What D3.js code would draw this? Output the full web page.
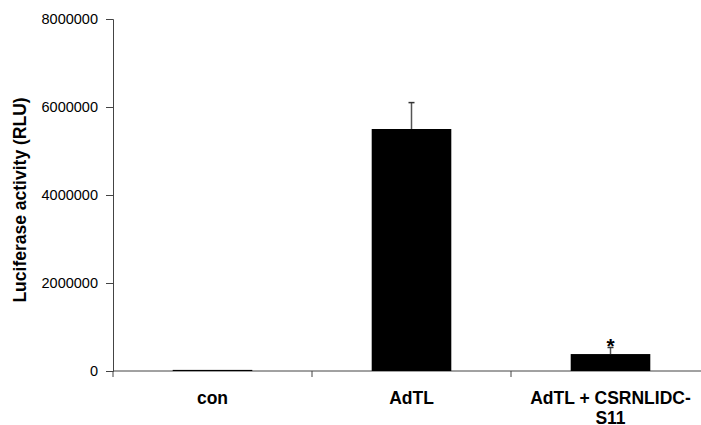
<!DOCTYPE html>
<html>
<head>
<meta charset="utf-8">
<script src="https://cdn.jsdelivr.net/npm/d3@7"></script>
<style>
  body { margin: 0; background: #fff; }
  svg { display: block; font-family: "Liberation Sans", Arial, sans-serif; }
</style>
</head>
<body>
<svg id="chart" width="701" height="425"></svg>
<script>
const categories = ["con", "AdTL", "AdTL + CSRNLIDC-S11"];
const labelLines = [["con"], ["AdTL"], ["AdTL + CSRNLIDC-", "S11"]];
const values = [25000, 5500000, 385000];
const errors = [0, 600000, 150000];
const marks = ["", "", "*"];
const yTicks = [0, 2000000, 4000000, 6000000, 8000000];

const svg = d3.select("#chart");
const plotLeft = 113, plotRight = 710, plotTop = 19, plotBottom = 371;

const x = d3.scaleBand().domain(categories).range([plotLeft, plotRight]).paddingInner(0.6).paddingOuter(0.3);
const y = d3.scaleLinear().domain([0, 8000000]).range([plotBottom, plotTop]);

// y axis
const yAxis = d3.axisLeft(y).tickValues(yTicks).tickSize(7).tickPadding(8).tickFormat(d3.format("d"));
const gy = svg.append("g").attr("transform", `translate(${plotLeft},0)`).call(yAxis);
gy.select(".domain").attr("stroke", "#444");
gy.selectAll(".tick line").attr("stroke", "#444");
gy.selectAll(".tick text").attr("font-size", 14.5).attr("fill", "#000")
  .attr("font-family", "Liberation Sans, Arial, sans-serif");

// x axis baseline with ticks between categories
svg.append("line").attr("x1", plotLeft).attr("x2", plotRight).attr("y1", plotBottom).attr("y2", plotBottom)
  .attr("stroke", "#444");
const bounds = d3.range(categories.length + 1).map(i => plotLeft + i * (plotRight - plotLeft) / categories.length);
svg.selectAll(".xtick").data(bounds).join("line")
  .attr("x1", d => d).attr("x2", d => d).attr("y1", plotBottom).attr("y2", plotBottom + 6)
  .attr("stroke", "#444");

// bars
svg.selectAll(".bar").data(categories).join("rect")
  .attr("x", d => x(d)).attr("width", x.bandwidth())
  .attr("y", (d, i) => y(values[i])).attr("height", (d, i) => plotBottom - y(values[i]))
  .attr("fill", "#000");

// error bars (upper only)
categories.forEach((c, i) => {
  if (!errors[i]) return;
  const cx = x(c) + x.bandwidth() / 2;
  svg.append("line").attr("x1", cx).attr("x2", cx)
    .attr("y1", y(values[i])).attr("y2", y(values[i] + errors[i]))
    .attr("stroke", "#555").attr("stroke-width", 1.5);
  svg.append("line").attr("x1", cx - 3).attr("x2", cx + 3)
    .attr("y1", y(values[i] + errors[i])).attr("y2", y(values[i] + errors[i]))
    .attr("stroke", "#333").attr("stroke-width", 1.5);
  if (marks[i]) {
    svg.append("text").attr("x", cx).attr("y", y(values[i] + errors[i]) + 6)
      .attr("text-anchor", "middle").attr("font-size", 21).attr("font-weight", "bold")
      .text(marks[i]);
  }
});

// category labels
categories.forEach((c, i) => {
  const cx = x(c) + x.bandwidth() / 2;
  const t = svg.append("text").attr("x", cx).attr("y", 404)
    .attr("text-anchor", "middle").attr("font-size", 17.5).attr("font-weight", "bold");
  labelLines[i].forEach((ln, j) => {
    t.append("tspan").attr("x", cx).attr("dy", j === 0 ? 0 : 20).text(ln);
  });
});

// y axis title
svg.append("text")
  .attr("transform", `translate(26,200) rotate(-90)`)
  .attr("text-anchor", "middle").attr("font-size", 17.5).attr("font-weight", "bold")
  .text("Luciferase activity (RLU)");
</script>
</body>
</html>
